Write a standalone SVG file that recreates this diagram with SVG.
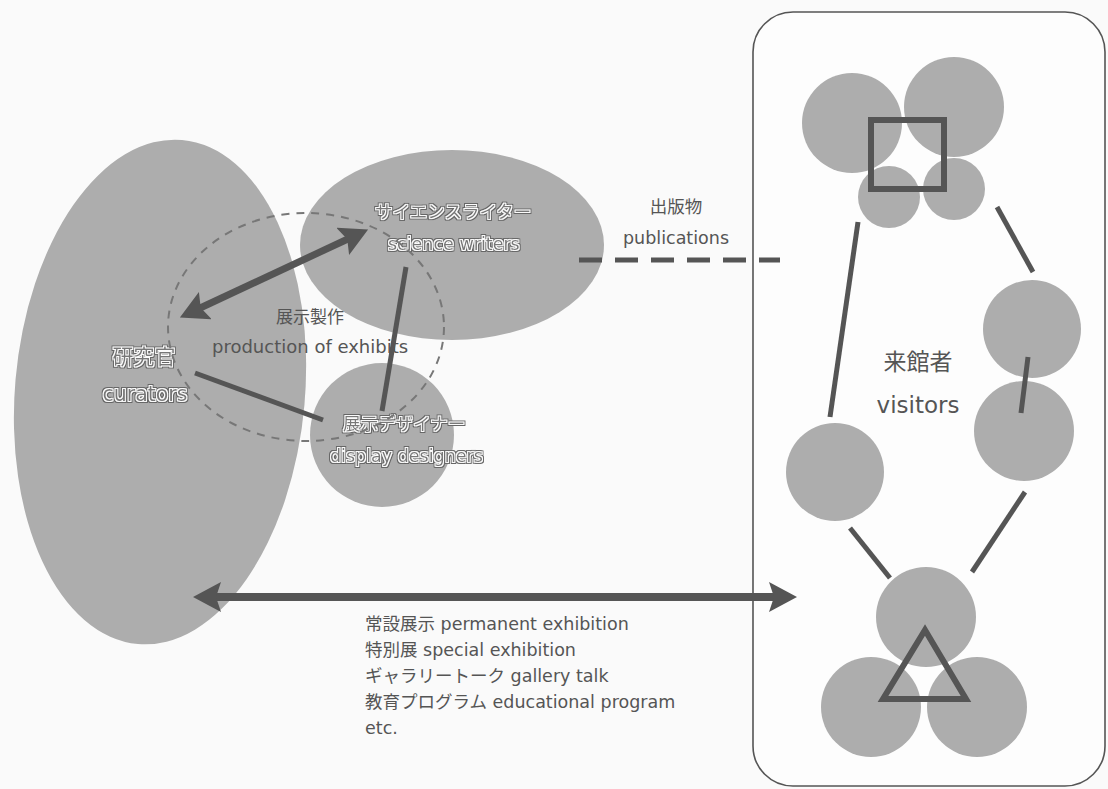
<svg xmlns="http://www.w3.org/2000/svg" width="1108" height="789" viewBox="0 0 1108 789">
  <defs>
    <style>
      .blob { fill: #adadad; }
      .link { stroke: #555; stroke-linecap: butt; fill: none; }
      .lbl { font-family: "DejaVu Sans", "Noto Sans CJK JP", sans-serif; fill: #555; }
      .halo { font-family: "DejaVu Sans", "Noto Sans CJK JP", sans-serif; fill: #777; filter: url(#outline); }
      .mark { fill: none; stroke: #555; stroke-width: 6; }
    </style>
    <!-- light ring with a thin dark edge around labels sitting on grey shapes -->
    <filter id="outline" x="-10%" y="-40%" width="120%" height="180%">
      <feMorphology in="SourceAlpha" operator="dilate" radius="2.2" result="outer"/>
      <feFlood flood-color="#666"/>
      <feComposite in2="outer" operator="in" result="dark"/>
      <feMorphology in="SourceAlpha" operator="dilate" radius="1.4" result="inner"/>
      <feFlood flood-color="#fbfbfb"/>
      <feComposite in2="inner" operator="in" result="light"/>
      <feMerge>
        <feMergeNode in="dark"/>
        <feMergeNode in="light"/>
        <feMergeNode in="SourceGraphic"/>
      </feMerge>
    </filter>
    <marker id="head" markerUnits="userSpaceOnUse" viewBox="0 0 28 30" markerWidth="28" markerHeight="30" refX="8" refY="15" orient="auto-start-reverse">
      <path d="M0,0 L28,15 L0,30 L5,15 z" fill="#555"/>
    </marker>
  </defs>

  <rect width="1108" height="789" fill="#fafafa"/>

  <!-- curators -->
  <g id="curators">
    <ellipse class="blob" cx="160" cy="392" rx="145" ry="253" transform="rotate(5 160 392)"/>
    <text class="halo" x="144" y="364" font-size="21" text-anchor="middle">研究官</text>
    <text class="halo" x="145" y="401" font-size="20.5" text-anchor="middle">curators</text>
  </g>

  <!-- science writers -->
  <g id="science-writers">
    <ellipse class="blob" cx="452" cy="245" rx="152" ry="95"/>
    <text class="halo" x="375" y="218" font-size="17.5">サイエンスライター</text>
    <text class="halo" x="388" y="250" font-size="17.5">science writers</text>
  </g>

  <!-- display designers -->
  <g id="display-designers">
    <circle class="blob" cx="382" cy="435" r="72"/>
    <text class="halo" x="343" y="430" font-size="17.5">展示デザイナー</text>
    <text class="halo" x="330" y="462" font-size="17.5">display designers</text>
  </g>

  <!-- production of exhibits (dashed scope) -->
  <g id="production">
    <ellipse cx="306" cy="327" rx="138" ry="114" fill="none" stroke="#777" stroke-width="2" stroke-dasharray="8 7"/>
    <text class="lbl" x="310" y="323" font-size="17" text-anchor="middle">展示製作</text>
    <text class="lbl" x="212" y="353" font-size="18">production of exhibits</text>
  </g>

  <!-- publications label -->
  <g id="publications">
    <text class="lbl" x="676" y="213" font-size="17.5" text-anchor="middle">出版物</text>
    <text class="lbl" x="676" y="244" font-size="17.5" text-anchor="middle">publications</text>
  </g>

  <!-- visitors area -->
  <g id="visitors">
    <rect x="753" y="12" width="352" height="774" rx="40" ry="40" fill="#fdfdfd" stroke="#555" stroke-width="1.6"/>
    <!-- top cluster -->
    <circle class="blob" cx="852" cy="123" r="50"/>
    <circle class="blob" cx="954" cy="107" r="50"/>
    <circle class="blob" cx="889" cy="197" r="31"/>
    <circle class="blob" cx="954" cy="189" r="31"/>
    <rect class="mark" x="871" y="120" width="73" height="69"/>
    <!-- side members -->
    <circle class="blob" cx="1032" cy="329" r="49"/>
    <circle class="blob" cx="1024" cy="431" r="50"/>
    <circle class="blob" cx="835" cy="472" r="49"/>
    <!-- bottom cluster -->
    <circle class="blob" cx="926" cy="617" r="50"/>
    <circle class="blob" cx="871" cy="707" r="50"/>
    <circle class="blob" cx="977" cy="707" r="50"/>
    <polygon class="mark" points="925,630 883,699 966,699" stroke-linejoin="miter"/>
    <text class="lbl" x="918" y="370" font-size="23" text-anchor="middle">来館者</text>
    <text class="lbl" x="918" y="413" font-size="23" text-anchor="middle">visitors</text>
  </g>

  <!-- connectors -->
  <g id="connectors">
    <line class="link" x1="198" y1="309" x2="350" y2="238" stroke-width="7" marker-start="url(#head)" marker-end="url(#head)"/>
    <line class="link" x1="406" y1="267" x2="382" y2="411" stroke-width="5"/>
    <line class="link" x1="195" y1="373" x2="323" y2="420" stroke-width="5"/>
    <line class="link" x1="579" y1="260" x2="780" y2="260" stroke-width="5" stroke-dasharray="23 13"/>
    <line class="link" x1="213" y1="597" x2="777" y2="597" stroke-width="8" marker-start="url(#head)" marker-end="url(#head)"/>
    <line class="link" x1="858" y1="222" x2="830" y2="417" stroke-width="5"/>
    <line class="link" x1="997" y1="207" x2="1033" y2="272" stroke-width="5"/>
    <line class="link" x1="1028" y1="357" x2="1021" y2="413" stroke-width="5"/>
    <line class="link" x1="850" y1="528" x2="890" y2="578" stroke-width="5"/>
    <line class="link" x1="1025" y1="492" x2="972" y2="572" stroke-width="5"/>
  </g>

  <!-- activities list -->
  <g id="activities" class="lbl" font-size="17.5">
    <text x="365" y="630">常設展示 permanent exhibition</text>
    <text x="365" y="656">特別展 special exhibition</text>
    <text x="365" y="682">ギャラリートーク gallery talk</text>
    <text x="365" y="708">教育プログラム educational program</text>
    <text x="365" y="734">etc.</text>
  </g>
</svg>
